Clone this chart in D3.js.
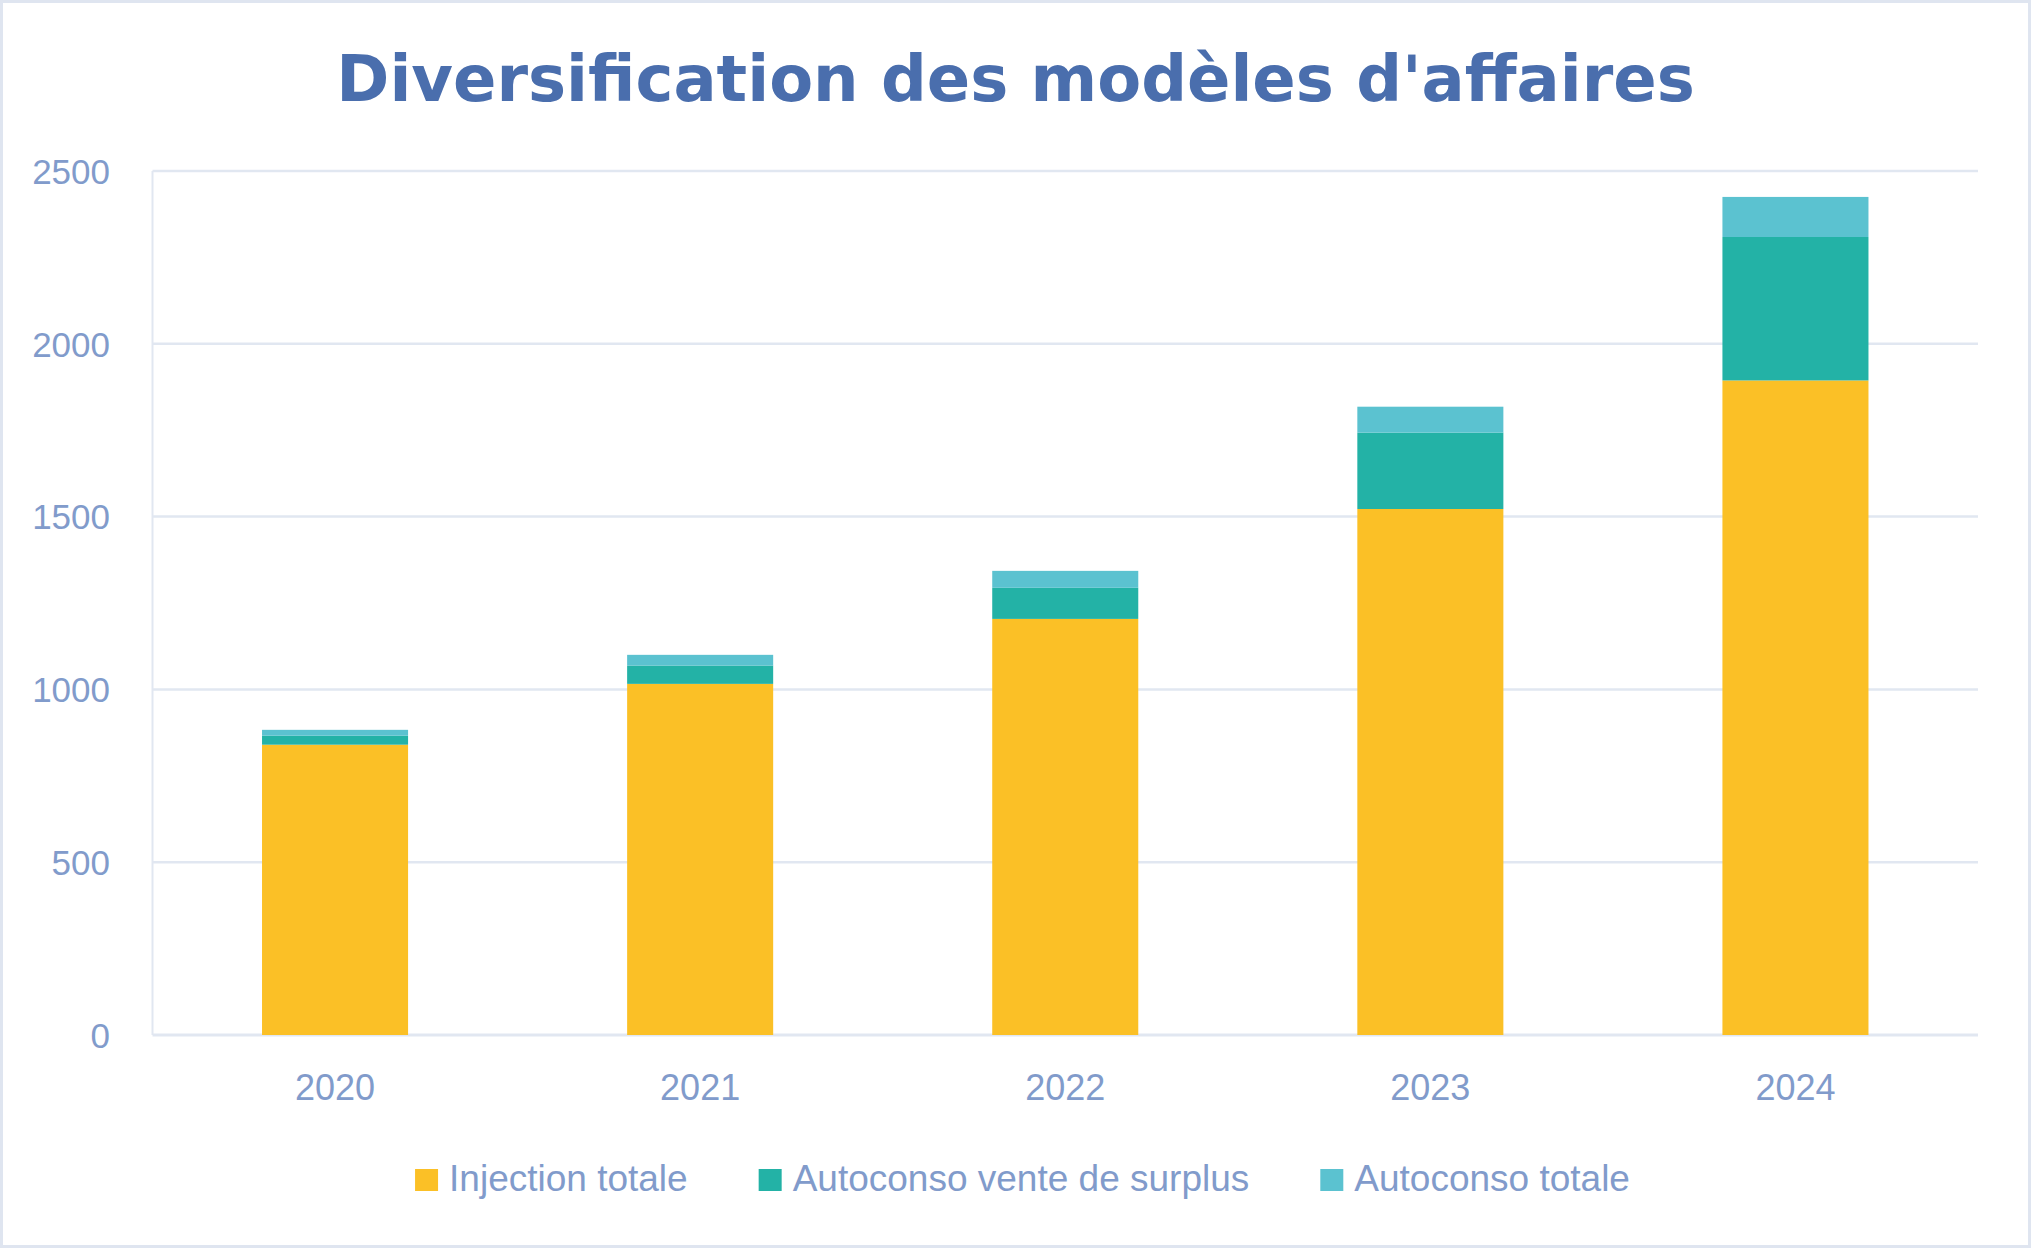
<!DOCTYPE html>
<html>
<head>
<meta charset="utf-8">
<script src="https://cdn.jsdelivr.net/npm/d3@7"></script>
<style>
  html, body { margin: 0; padding: 0; background: #ffffff; }
  svg { display: block; }
</style>
</head>
<body>
<svg id="chart" width="2031" height="1248"></svg>
<script>
const years = ["2020", "2021", "2022", "2023", "2024"];
const seriesNames = ["Injection totale", "Autoconso vente de surplus", "Autoconso totale"];
const injectionTotale = [840, 1016, 1204, 1522, 1894];
const autoconsoVenteSurplus = [26, 53, 90, 221, 415];
const autoconsoTotale = [17, 31, 49, 75, 116];
const yTicks = [0, 500, 1000, 1500, 2000, 2500];
const colors = ["#FBC026", "#23B2A6", "#5BC2D0"];
const titleText = "Diversification des modèles d'affaires";

const W = 2031, H = 1248;
const margin = { left: 152.5, right: 2031 - 1978, top: 171, bottom: 1248 - 1035 };
const svg = d3.select("#chart");

// outer border
svg.append("rect").attr("x", 1.5).attr("y", 1.5).attr("width", W - 3).attr("height", H - 3)
  .attr("fill", "#fff").attr("stroke", "#DFE5F0").attr("stroke-width", 3);

const table = years.map((y, i) => ({
  year: y,
  [seriesNames[0]]: injectionTotale[i],
  [seriesNames[1]]: autoconsoVenteSurplus[i],
  [seriesNames[2]]: autoconsoTotale[i]
}));
const stacked = d3.stack().keys(seriesNames)(table);

const x = d3.scaleBand().domain(years)
  .range([margin.left, W - margin.right]).paddingInner(0.6).paddingOuter(0.3);
const y = d3.scaleLinear().domain([0, 2500]).range([H - margin.bottom, margin.top]);

// gridlines
svg.append("g").selectAll("line").data(yTicks).join("line")
  .attr("x1", margin.left).attr("x2", W - margin.right)
  .attr("y1", d => y(d)).attr("y2", d => y(d))
  .attr("stroke", "#E1E7F1").attr("stroke-width", d => d === 0 ? 3 : 2.5);

// left axis line
svg.append("line").attr("x1", margin.left).attr("x2", margin.left)
  .attr("y1", y(2500)).attr("y2", y(0)).attr("stroke", "#E1E7F1").attr("stroke-width", 2);

// y axis labels
const yAxis = d3.axisLeft(y).tickValues(yTicks).tickSize(0).tickPadding(0).tickFormat(d3.format("d"));
const gy = svg.append("g").attr("transform", `translate(110,0)`).call(yAxis);
gy.select(".domain").remove();
gy.selectAll("text").attr("font-family", "'Liberation Sans', Arial, sans-serif")
  .attr("font-size", 35).attr("fill", "#819BCB").attr("dy", "0.35em");

// bars
svg.append("g").selectAll("g").data(stacked).join("g")
  .attr("fill", (d, i) => colors[i])
  .selectAll("rect").data(d => d).join("rect")
  .attr("x", d => x(d.data.year))
  .attr("width", x.bandwidth())
  .attr("y", d => y(d[1]))
  .attr("height", d => y(d[0]) - y(d[1]));

// x axis labels
const xAxis = d3.axisBottom(x).tickSize(0).tickPadding(0);
const gx = svg.append("g").attr("transform", `translate(0,1100)`).call(xAxis);
gx.select(".domain").remove();
gx.selectAll("text").attr("font-family", "'Liberation Sans', Arial, sans-serif")
  .attr("font-size", 36).attr("fill", "#819BCB").attr("dy", 0);

// title
svg.append("text").attr("x", 1015.5).attr("y", 101)
  .attr("text-anchor", "middle")
  .attr("font-family", "'DejaVu Sans', sans-serif").attr("font-weight", "bold")
  .attr("font-size", 64).attr("fill", "#4A6EAD")
  .text(titleText);

// legend
const legend = svg.append("g");
const items = legend.selectAll("g").data(seriesNames).join("g");
items.append("rect").attr("width", 23).attr("height", 22).attr("y", 1169)
  .attr("fill", (d, i) => colors[i]);
items.append("text").attr("x", 34).attr("y", 1191)
  .attr("font-family", "'Liberation Sans', Arial, sans-serif")
  .attr("font-size", 37).attr("fill", "#819BCB").text(d => d);
const gap = 71;
const widths = [];
items.each(function () {
  const w = 34 + d3.select(this).select("text").node().getComputedTextLength();
  widths.push(w);
});
const total = d3.sum(widths) + gap * (widths.length - 1);
let startX = 1022.5 - total / 2;
items.attr("transform", (d, i) => {
  const t = `translate(${startX},0)`;
  startX += widths[i] + gap;
  return t;
});
</script>
</body>
</html>
